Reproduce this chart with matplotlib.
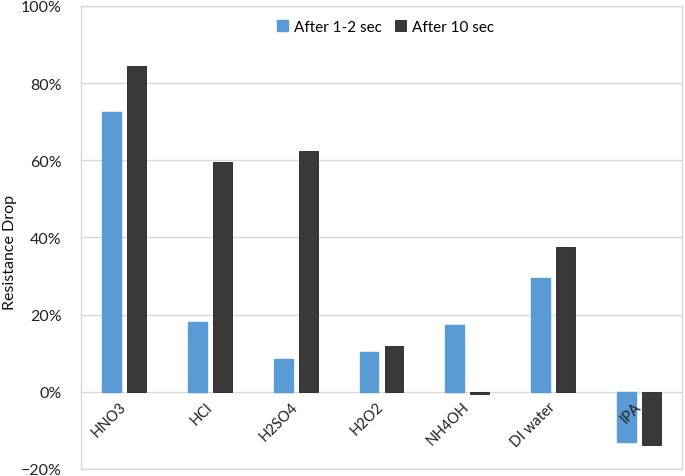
import matplotlib
matplotlib.use("Agg")
import matplotlib.pyplot as plt
import matplotlib.transforms as mtransforms
import numpy as np
from matplotlib.ticker import PercentFormatter

categories = ["HNO3", "HCl", "H2SO4", "H2O2", "NH4OH", "DI water", "IPA"]
after_1_2 = [72.5, 18.2, 8.4, 10.4, 17.4, 29.4, -13.0]
after_10 = [84.4, 59.5, 62.5, 11.8, -0.5, 37.5, -13.9]
series_names = ["After 1-2 sec", "After 10 sec"]
yticks = [-20, 0, 20, 40, 60, 80, 100]

plt.rcParams['font.family'] = ['Lato', 'DejaVu Sans']

fig = plt.figure(figsize=(6.85, 4.77), dpi=100)
ax = fig.add_axes([81/685, 1-470/477, (682-81)/685, (470-7)/477])

x = np.arange(len(categories))
w = 0.22
off = 0.145
ax.bar(x - off, after_1_2, w, color="#5B9BD5", edgecolor="#5B9BD5", label=series_names[0], zorder=3)
ax.bar(x + off, after_10, w, color="#3A3838", edgecolor="#222222", linewidth=0.6, label=series_names[1], zorder=3)

ax.set_xlim(-0.5, len(categories) - 0.5)
ax.set_ylim(-20, 100)
ax.set_yticks(yticks)
ax.yaxis.set_major_formatter(PercentFormatter(decimals=0))
ax.tick_params(axis='y', length=0, pad=14, labelsize=11.5, labelcolor="#222222")
ax.set_xticks([])
ax.grid(axis='y', color="#D9D9D9", linewidth=1, zorder=0)
for s in ax.spines.values():
    s.set_color("#D9D9D9")
    s.set_linewidth(1)

ax.set_ylabel("Resistance Drop", fontsize=11.5, color="#111111")
ax.yaxis.set_label_coords(-0.106, 0.47)

offset = mtransforms.ScaledTranslation(0, -9/72, fig.dpi_scale_trans)
for i, c in enumerate(categories):
    ax.text(i, 0, c, rotation=45, rotation_mode='anchor', ha='right', va='center',
            fontsize=10.5, color="#222222", transform=ax.transData + offset, zorder=5)

ax.legend(loc='upper center', bbox_to_anchor=(0.507, 1.0), ncol=2, frameon=False,
          fontsize=11, handlelength=0.7, handleheight=0.7, handletextpad=0.4, columnspacing=0.9)

fig.savefig("out.png", dpi=100)
